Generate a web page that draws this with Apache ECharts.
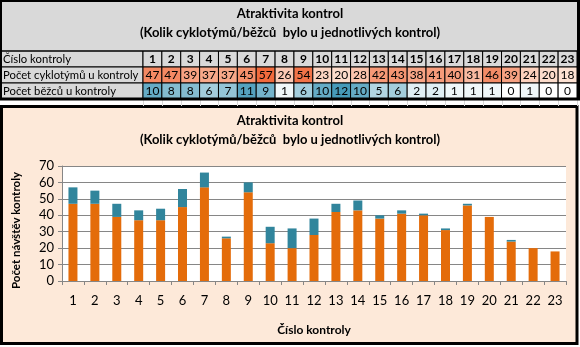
<!DOCTYPE html>
<html>
<head>
<meta charset="utf-8">
<script src="https://cdn.jsdelivr.net/npm/echarts@6/dist/echarts.min.js"></script>
<style>
html, body { margin: 0; padding: 0; background: #ffffff; }
#chart { width: 580px; height: 347px; }
</style>
</head>
<body>
<div id="chart"></div>
<script>
// Checkpoint numbers and visit counts
const controls = ['1','2','3','4','5','6','7','8','9','10','11','12','13','14','15','16','17','18','19','20','21','22','23'];
const cyclists = [47, 47, 39, 37, 37, 45, 57, 26, 54, 23, 20, 28, 42, 43, 38, 41, 40, 31, 46, 39, 24, 20, 18];
const runners  = [10, 8, 8, 6, 7, 11, 9, 1, 6, 10, 12, 10, 5, 6, 2, 2, 1, 1, 1, 0, 1, 0, 0];
const rowLabels = ['Číslo kontroly', 'Počet cyklotýmů u kontroly', 'Počet běžců u kontroly'];
const titleText = 'Atraktivita kontrol';
const subtitleText = '(Kolik cyklotýmů/běžců  bylo u jednotlivých kontrol)';
const yTicks = [0, 10, 20, 30, 40, 50, 60, 70];

const FONT = 'Lato, "Open Sans", sans-serif';
const ORANGE = '#e46c0a';
const TEAL = '#31859c';

function mix(a, b, t) {
  const r = Math.round(a[0] + (b[0] - a[0]) * t);
  const g = Math.round(a[1] + (b[1] - a[1]) * t);
  const bl = Math.round(a[2] + (b[2] - a[2]) * t);
  return 'rgb(' + r + ',' + g + ',' + bl + ')';
}
// colour scale across a row, from its minimum to its maximum
function scaleColor(v, arr, lo, hi) {
  const mn = Math.min.apply(null, arr), mx = Math.max.apply(null, arr);
  const t = mx === mn ? 0 : (v - mn) / (mx - mn);
  return mix(lo, hi, t);
}

// Spreadsheet table above the chart
const tableTop = 51, rowH = 16, labelW = 143, tableRight = 577;
const colW = (tableRight - labelW) / controls.length;
const elements = [];

// title band
elements.push({ type: 'rect', z: -5, shape: { x: 0, y: 0, width: 580, height: tableTop }, style: { fill: '#d9d9d9' } });

const rows = [
  { values: controls, bold: true, color: () => '#d9d9d9' },
  { values: cyclists, bold: false, color: v => scaleColor(v, cyclists, [253, 226, 211], [241, 106, 60]) },
  { values: runners, bold: false, color: v => scaleColor(v, runners, [255, 255, 255], [70, 154, 185]) }
];
rows.forEach((row, r) => {
  const y = tableTop + r * rowH;
  elements.push({ type: 'rect', z: -5, shape: { x: 0, y: y, width: labelW, height: rowH }, style: { fill: '#d9d9d9', stroke: '#000', lineWidth: 1 } });
  elements.push({ type: 'text', z: 5, x: 3, y: y + rowH / 2 + 0.5, style: { text: rowLabels[r], fill: '#000', font: '11.3px ' + FONT, verticalAlign: 'middle', align: 'left' } });
  row.values.forEach((v, i) => {
    const x = labelW + i * colW;
    elements.push({ type: 'rect', z: -5, shape: { x: x, y: y, width: colW, height: rowH }, style: { fill: row.color(v), stroke: '#000', lineWidth: 1 } });
    elements.push({ type: 'text', z: 5, x: x + colW / 2, y: y + rowH / 2 + 0.5, style: { text: String(v), fill: '#000', font: (row.bold ? 'bold ' : '') + '12px ' + FONT, verticalAlign: 'middle', align: 'center' } });
  });
});
const tableBottom = tableTop + rows.length * rowH;
// outer frame of the table block
elements.push({ type: 'line', z: 6, shape: { x1: 0, y1: tableBottom, x2: 580, y2: tableBottom }, style: { stroke: '#000', lineWidth: 3 } });
elements.push({ type: 'line', z: 6, shape: { x1: 0, y1: 1, x2: 580, y2: 1 }, style: { stroke: '#000', lineWidth: 2 } });
elements.push({ type: 'line', z: 6, shape: { x1: 1, y1: 0, x2: 1, y2: tableBottom }, style: { stroke: '#000', lineWidth: 2 } });
elements.push({ type: 'line', z: 6, shape: { x1: 578.5, y1: 0, x2: 578.5, y2: tableBottom }, style: { stroke: '#000', lineWidth: 3 } });
elements.push({ type: 'line', z: 6, shape: { x1: 0, y1: tableTop, x2: 580, y2: tableTop }, style: { stroke: '#000', lineWidth: 1 } });

// faint sheet gridlines in the gap
for (let i = 0; i <= controls.length; i++) {
  const x = Math.round(labelW + i * colW) + 0.5;
  elements.push({ type: 'line', z: -6, shape: { x1: x, y1: tableBottom, x2: x, y2: 106 }, style: { stroke: '#d8d8d8', lineWidth: 1 } });
}

// chart box
elements.push({ type: 'rect', z: -10, shape: { x: 1.5, y: 106.5, width: 575.5, height: 237 }, style: { fill: '#fde9d9', stroke: '#000', lineWidth: 3 } });

const chart = echarts.init(document.getElementById('chart'), null, { renderer: 'canvas' });
chart.setOption({
  animation: false,
  backgroundColor: '#ffffff',
  textStyle: { fontFamily: FONT },
  title: [
    { text: titleText, left: 'center', top: 7, padding: 0, textStyle: { fontSize: 13, fontWeight: 'bold', color: '#000', fontFamily: FONT } },
    { text: subtitleText, left: 'center', top: 26, padding: 0, textStyle: { fontSize: 13, fontWeight: 'bold', color: '#000', fontFamily: FONT } },
    { text: titleText, left: 'center', top: 114, padding: 0, textStyle: { fontSize: 13, fontWeight: 'bold', color: '#000', fontFamily: FONT } },
    { text: subtitleText, left: 'center', top: 133, padding: 0, textStyle: { fontSize: 13, fontWeight: 'bold', color: '#000', fontFamily: FONT } }
  ],
  graphic: { elements: elements },
  grid: { left: 62, right: 14, top: 166, bottom: 66, show: true, backgroundColor: '#ffffff', borderWidth: 0 },
  xAxis: {
    type: 'category',
    data: controls,
    name: 'Číslo kontroly',
    nameLocation: 'middle',
    nameGap: 43,
    nameTextStyle: { fontSize: 12, fontWeight: 'bold', color: '#000', fontFamily: FONT },
    axisLine: { lineStyle: { color: '#868686', width: 1 } },
    axisTick: { show: true, length: 4, lineStyle: { color: '#868686' } },
    axisLabel: { fontSize: 13, color: '#000', margin: 13 }
  },
  yAxis: {
    type: 'value',
    min: yTicks[0],
    max: yTicks[yTicks.length - 1],
    interval: yTicks[1] - yTicks[0],
    name: 'Počet návštěv kontroly',
    nameLocation: 'middle',
    nameRotate: 90,
    nameGap: 40,
    nameTextStyle: { fontSize: 11.5, fontWeight: 'bold', color: '#000', fontFamily: FONT, padding: [0, 14, 0, 0] },
    axisLine: { show: true, lineStyle: { color: '#868686', width: 1 } },
    axisTick: { show: true, length: 4, lineStyle: { color: '#868686' } },
    axisLabel: { fontSize: 13, color: '#000', margin: 8 },
    splitLine: { lineStyle: { color: '#868686', width: 1 } }
  },
  series: [
    { name: 'Počet cyklotýmů u kontroly', type: 'bar', stack: 'total', data: cyclists, barWidth: 9, itemStyle: { color: ORANGE } },
    { name: 'Počet běžců u kontroly', type: 'bar', stack: 'total', data: runners, barWidth: 9, itemStyle: { color: TEAL } }
  ]
});
</script>
</body>
</html>
